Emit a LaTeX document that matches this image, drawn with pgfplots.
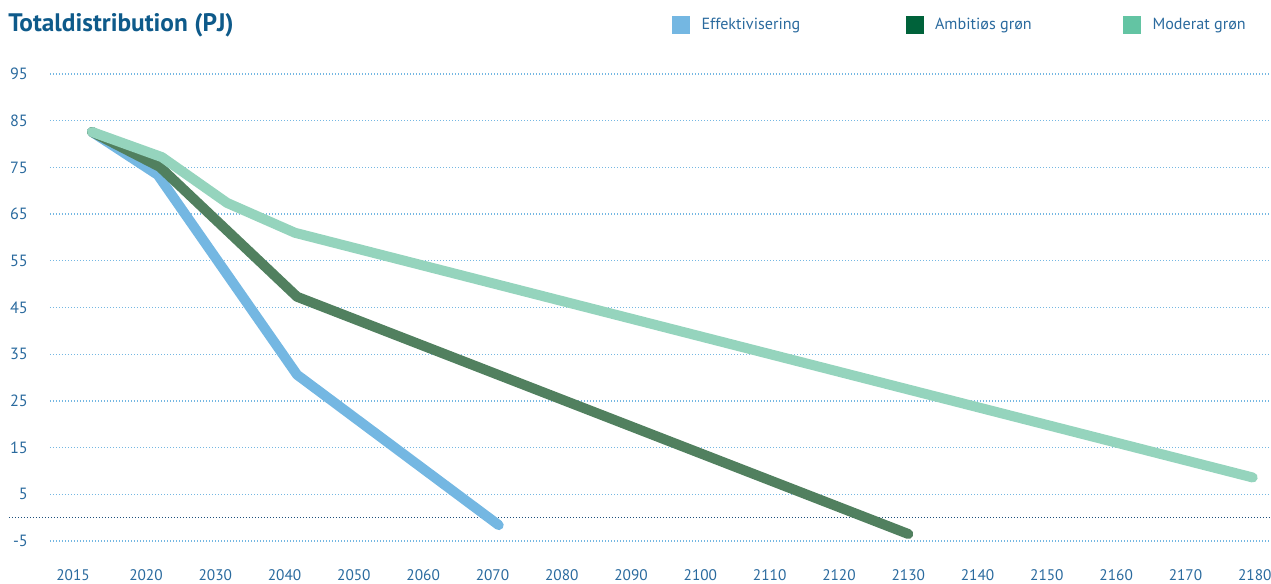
\documentclass[border=0pt]{standalone}
\usepackage{pgfplots}
\pgfplotsset{compat=1.18}
\usepackage{fontspec}
\setmainfont{PT Sans}
\definecolor{titleblue}{HTML}{0E5A8A}
\definecolor{tickblue}{HTML}{2A6A9E}
\definecolor{gridblue}{HTML}{74B7E2}
\definecolor{zeroblue}{HTML}{1C4F7C}
\definecolor{effline}{HTML}{74B7E2}
\definecolor{ambline}{HTML}{51805F}
\definecolor{modline}{HTML}{95D4BD}
\definecolor{effleg}{HTML}{74B7E2}
\definecolor{ambleg}{HTML}{00623A}
\definecolor{modleg}{HTML}{63C4A3}
\begin{document}
\begin{tikzpicture}
\useasboundingbox (-37.5pt,-21pt) rectangle (915.75pt,416.25pt);
\node[anchor=base west, inner sep=0pt, text=titleblue, font=\fontsize{19}{22}\selectfont\bfseries] at (-31.5pt,392.25pt) {Totaldistribution (PJ)};
\begin{axis}[
  at={(0,0)}, anchor=south west,
  scale only axis, width=915.75pt, height=367.5pt,
  xmin=2006.15, xmax=2182.34, ymin=-8, ymax=96.93,
  clip=false,
  axis line style={draw=none}, tick style={draw=none}, major tick length=0pt,
  xtick={2009.47,2020,2030,...,2180},
  xticklabels={2015,2020,2030,2040,2050,2060,2070,2080,2090,2100,2110,2120,2130,2140,2150,2160,2170,2180},
  ytick={-5,5,15,25,35,45,55,65,75,85,95},
  yticklabels={-5,5,15,25,35,45,55,65,75,85,95},
  xticklabel style={anchor=north, inner sep=0pt, yshift=-11pt, text=tickblue, font=\fontsize{11.5}{13}\selectfont},
  yticklabel style={anchor=east, inner sep=0pt, xshift=-16.5pt, text=tickblue, font=\fontsize{12.2}{14}\selectfont},
  ymajorgrids,
  major grid style={gridblue, line width=1pt, dash pattern=on 1pt off 1.25pt},
  legend columns=3,
  legend style={at={(0.5094,1.0827)}, anchor=west, draw=none, fill=none, inner sep=0pt, outer sep=0pt,
    font=\fontsize{12.1}{14}\selectfont, text=tickblue,
    nodes={inner sep=0pt},
    /tikz/every odd column/.append style={column sep=9pt},
    /tikz/every even column/.append style={column sep=0pt}},
]
\draw[zeroblue, line width=1pt, dash pattern=on 1pt off 1.25pt] (axis cs:2000.23,0) -- (axis cs:2182.34,0);
\addplot[effline, line width=7.5pt, line cap=round, line join=round, forget plot] coordinates {
  (2012.2,82.6) (2021.7,73.4) (2041.8,30.6) (2070.9,-1.6)};
\addplot[ambline, line width=7.5pt, line cap=round, line join=round, forget plot] coordinates {
  (2012.2,82.6) (2022.0,75.1) (2041.8,47.3) (2130.0,-3.5)};
\addplot[modline, line width=7.5pt, line cap=round, line join=round, forget plot] coordinates {
  (2012.2,82.6) (2022.3,77.2) (2031.7,67.4) (2041.5,61.0) (2179.7,8.6)};
\addlegendimage{legend image code/.code={\fill[effleg] (0pt,-6.375pt) rectangle (12.75pt,6.375pt);}}
\addlegendentry{\makebox[153pt][l]{Effektivisering}}
\addlegendimage{legend image code/.code={\fill[ambleg] (0pt,-6.375pt) rectangle (12.75pt,6.375pt);}}
\addlegendentry{\makebox[141pt][l]{Ambitiøs grøn}}
\addlegendimage{legend image code/.code={\fill[modleg] (0pt,-6.375pt) rectangle (12.75pt,6.375pt);}}
\addlegendentry{Moderat grøn}
\end{axis}
\end{tikzpicture}
\end{document}
